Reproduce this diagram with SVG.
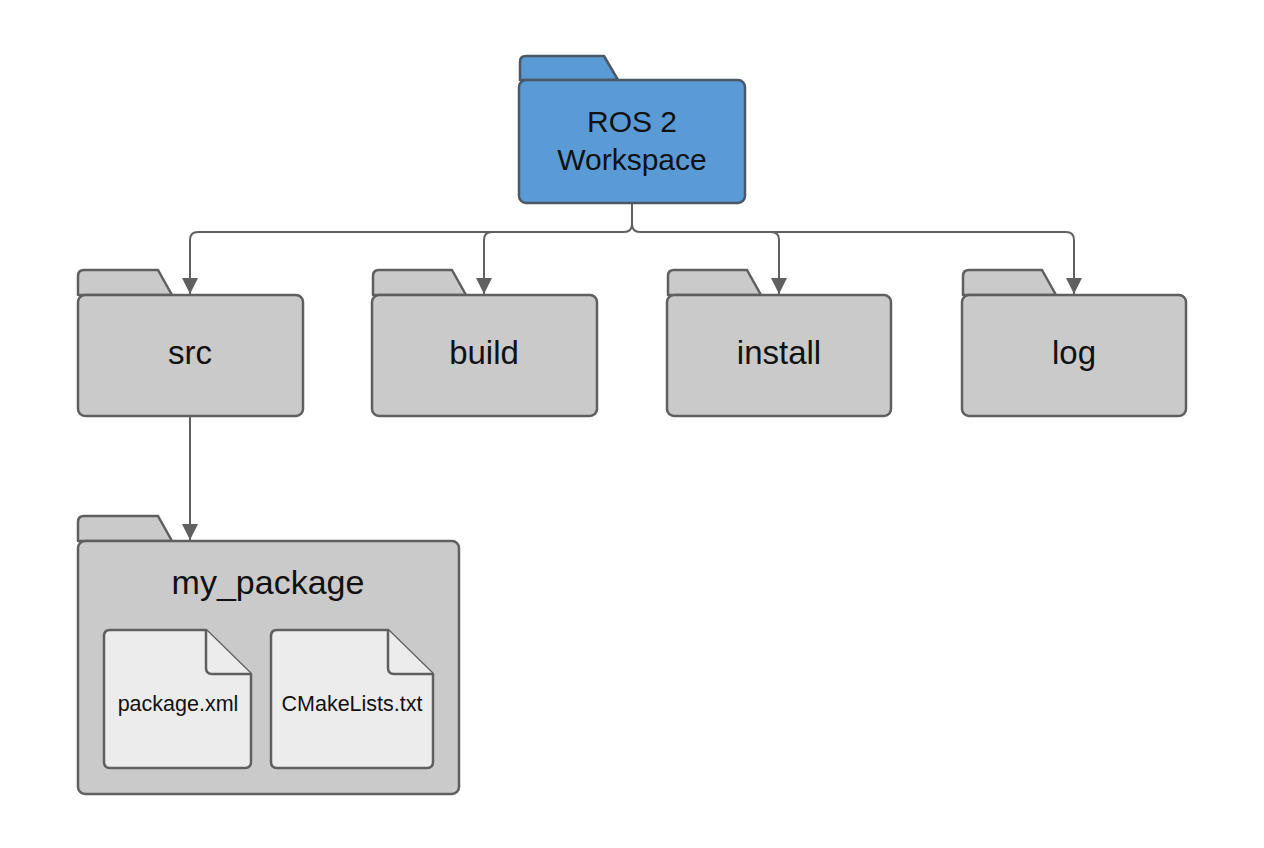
<svg xmlns="http://www.w3.org/2000/svg" width="1264" height="848" viewBox="0 0 1264 848">
<style>
.f{fill:#cacaca;stroke:#5f5f5f;stroke-width:2.5;stroke-linejoin:round}
.b{fill:#5b9bd5;stroke:#4b5866;stroke-width:2.5;stroke-linejoin:round}
.d{fill:#ececec;stroke:#5f5f5f;stroke-width:2.5;stroke-linejoin:round}
.t{font-family:"Liberation Sans",Arial,sans-serif;fill:#111;text-anchor:middle}
.c{fill:none;stroke:#606060;stroke-width:2}
</style>
<defs>
<marker id="ar" viewBox="0 0 10 10" markerWidth="16" markerHeight="20" refX="10" refY="5" orient="auto" markerUnits="userSpaceOnUse"><path d="M0,0 L10,5 L0,10 z" fill="#606060"/></marker></defs>
<g id="connectors">
<path class="c" d="M632,203 V224 Q632,232 624,232 H198 Q190,232 190,240 V294" marker-end="url(#ar)"/>
<path class="c" d="M632,224 Q632,232 640,232 H1066 Q1074,232 1074,240 V294" marker-end="url(#ar)"/>
<path class="c" d="M492,232 Q484,232 484,240 V294" marker-end="url(#ar)"/>
<path class="c" d="M771,232 Q779,232 779,240 V294" marker-end="url(#ar)"/>
<path class="c" d="M190,416 V540" marker-end="url(#ar)"/>
</g>
<g id="workspace">
<path class="b" d="M520,80 V62 Q520,56 526,56 H604 L618,80 Z"/>
<rect class="b" x="519" y="80" width="226" height="123" rx="7"/>
<text class="t" x="632" y="132" font-size="30">ROS 2</text>
<text class="t" x="632" y="170" font-size="30">Workspace</text>
</g>
<g id="src">
<path class="f" d="M78,295 V276 Q78,270 84,270 H158 L172,295 Z"/>
<rect class="f" x="78" y="295" width="225" height="121" rx="7"/>
<text class="t" x="190" y="364" font-size="33">src</text>
</g>
<g id="build">
<path class="f" d="M373,295 V276 Q373,270 379,270 H452 L466,295 Z"/>
<rect class="f" x="372" y="295" width="225" height="121" rx="7"/>
<text class="t" x="484" y="364" font-size="33">build</text>
</g>
<g id="install">
<path class="f" d="M668,295 V276 Q668,270 674,270 H747 L761,295 Z"/>
<rect class="f" x="667" y="295" width="224" height="121" rx="7"/>
<text class="t" x="779" y="364" font-size="33">install</text>
</g>
<g id="log">
<path class="f" d="M963,295 V276 Q963,270 969,270 H1042 L1056,295 Z"/>
<rect class="f" x="962" y="295" width="224" height="121" rx="7"/>
<text class="t" x="1074" y="364" font-size="33">log</text>
</g>
<g id="my_package">
<path class="f" d="M78,541 V522 Q78,516 84,516 H158 L172,541 Z"/>
<rect class="f" x="78" y="541" width="381" height="253" rx="7"/>
<text class="t" x="268" y="594" font-size="34">my_package</text>
</g>
<g id="package_xml">
<path class="d" d="M110,630 H206 L251,674 V762 Q251,768 245,768 H110 Q104,768 104,762 V636 Q104,630 110,630 Z"/>
<path class="d" d="M206,630 V668 Q206,674 212,674 H251"/>
<text class="t" x="178" y="711" font-size="21.5">package.xml</text>
</g>
<g id="cmakelists">
<path class="d" d="M277,630 H388 L433,674 V762 Q433,768 427,768 H277 Q271,768 271,762 V636 Q271,630 277,630 Z"/>
<path class="d" d="M388,630 V668 Q388,674 394,674 H433"/>
<text class="t" x="352" y="711" font-size="21.5">CMakeLists.txt</text>
</g>
</svg>
